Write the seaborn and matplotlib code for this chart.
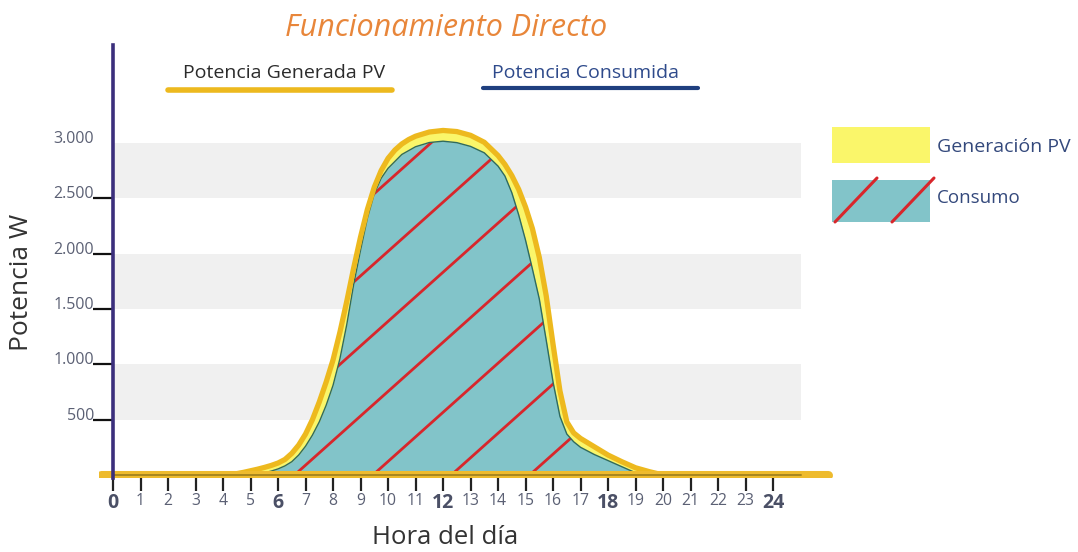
import numpy as np
import matplotlib
matplotlib.use("Agg")
import matplotlib.pyplot as plt
from matplotlib.patches import Rectangle
from matplotlib.lines import Line2D
import seaborn as sns

# Hourly power curves (W)
hours_pv = [0, 1, 2, 3, 4, 4.25, 4.5, 4.75, 5, 5.25, 5.5, 5.75, 6, 6.25, 6.5,
            6.75, 7, 7.25, 7.5, 7.75, 8, 8.25, 8.5, 8.75, 9, 9.25, 9.5, 9.75,
            10, 10.25, 10.5, 10.75, 11, 11.5, 12, 12.5, 13, 13.5, 14, 14.25,
            14.5, 14.75, 15, 15.25, 15.5, 15.75, 16, 16.25, 16.5, 16.75, 17,
            17.5, 18, 18.5, 19, 19.5, 20, 21, 22, 23, 24]
pv_w = [0, 0, 0, 0, 0, 4, 12, 24, 38, 52, 68, 86, 108, 140, 195, 270, 370,
        500, 660, 840, 1040, 1290, 1570, 1870, 2150, 2400, 2600, 2750, 2860,
        2935, 2990, 3030, 3060, 3098, 3112, 3102, 3068, 3005, 2885, 2805,
        2705, 2580, 2420, 2225, 1965, 1620, 1180, 760, 480, 380, 330, 255, 180,
        120, 65, 30, 0, 0, 0, 0, 0]

hours_cons = [0, 1, 2, 3, 4, 5, 5.25, 5.5, 5.75, 6, 6.25, 6.5, 6.75, 7, 7.25,
              7.5, 7.75, 8, 8.25, 8.5, 8.75, 9, 9.25, 9.5, 9.75, 10, 10.5, 11,
              11.5, 12, 12.5, 13, 13.5, 14, 14.25, 14.5, 14.75, 15, 15.25, 15.5,
              15.75, 16, 16.25, 16.5, 16.75, 17, 17.5, 18, 18.5, 19, 19.5, 20,
              24]
cons_w = [0, 0, 0, 0, 0, 0, 8, 20, 35, 55, 82, 120, 180, 260, 360, 480, 630,
          810, 1050, 1360, 1720, 2030, 2320, 2540, 2680, 2770, 2895, 2965,
          3003, 3015, 3002, 2968, 2910, 2790, 2700, 2550, 2350, 2120, 1860,
          1590, 1220, 840, 530, 370, 300, 250, 185, 130, 75, 20, 0, 0, 0]

x_ticks = list(range(0, 25))
major_hours = [0, 6, 12, 18, 24]
y_ticks = [500, 1000, 1500, 2000, 2500, 3000]
y_labels = ["500", "1.000", "1.500", "2.000", "2.500", "3.000"]
band_ranges = [(500, 1000), (1500, 2000), (2500, 3000)]

title = "Funcionamiento Directo"
x_title = "Hora del día"
y_title = "Potencia W"
top_labels = ["Potencia Generada PV", "Potencia Consumida"]
side_labels = ["Generación PV", "Consumo"]

# Colours
GOLD = "#EDB91E"
YELLOW = "#FAF66A"
TEAL = "#82C4C9"
TEAL_EDGE = "#2F6A5E"
RED = "#D8262B"
NAVY_AXIS = "#3B2F7C"
NAVY_TEXT = "#34497C"
TICK_GREY = "#5B6074"
BAND = "#F0F0F0"

sns.set_theme(style="white")
plt.rcParams["font.family"] = ["Open Sans", "DejaVu Sans"]

fig = plt.figure(figsize=(10.78, 5.52), dpi=100)
ax = fig.add_axes([0.0921, 0.1341, 0.6837, 0.7844])
ax.set_xlim(-0.5, 26.3)
ax.set_ylim(-27, 3884)

# Alternating horizontal bands
for lo, hi in band_ranges:
    ax.fill_between([0, 25], lo, hi, color=BAND, lw=0, zorder=0)

# PV generation area and consumption area
ax.fill_between(hours_pv, 0, pv_w, color=YELLOW, lw=0, zorder=1)
cons_poly = ax.fill_between(hours_cons, 0, cons_w, color=TEAL, lw=0, zorder=2)

# Wide diagonal stripes inside the consumption area
clip_path = cons_poly.get_paths()[0]
slope = 222.0  # W per hour
for k in range(-4, 4):
    h0 = 6.6 + 2.85 * k
    ln, = ax.plot([h0, h0 + 3600 / slope], [0, 3600], color=RED, lw=2,
                  zorder=3, solid_capstyle="butt")
    ln.set_clip_path(clip_path, ax.transData)

sns.lineplot(x=hours_cons, y=cons_w, ax=ax, color=TEAL_EDGE, lw=1.0,
             zorder=4, sort=False, estimator=None)
sns.lineplot(x=hours_pv, y=pv_w, ax=ax, color=GOLD, lw=3.8, zorder=5,
             sort=False, estimator=None)

# Baseline bar
ax.plot([-0.45, 26.0], [0, 0], color="#EEBB2E", lw=6.5, zorder=6,
        solid_capstyle="round")
ax.plot([0, 25], [0, 0], color="#A8861E", lw=1.4, zorder=7)

# Axes styling
for side in ["top", "right", "bottom"]:
    ax.spines[side].set_visible(False)
ax.spines["left"].set_position(("data", 0))
ax.spines["left"].set_color(NAVY_AXIS)
ax.spines["left"].set_linewidth(2.6)
ax.spines["left"].set_zorder(8)

ax.set_xticks(x_ticks)
ax.set_xticklabels([str(h) for h in x_ticks])
ax.tick_params(axis="x", direction="out", length=9, width=1.6, color="#222222",
               pad=2, bottom=True)
for lab, h in zip(ax.get_xticklabels(), x_ticks):
    if h in major_hours:
        lab.set_fontsize(14)
        lab.set_fontweight("bold")
        lab.set_color("#4B5066")
    else:
        lab.set_fontsize(11.3)
        lab.set_color(TICK_GREY)

ax.set_yticks(y_ticks)
ax.set_yticklabels(y_labels)
ax.tick_params(axis="y", direction="out", length=14.5, width=1.6,
               color="#111111", pad=-1, left=True, labelsize=11.5,
               labelcolor=TICK_GREY)
for lab in ax.get_yticklabels():
    lab.set_verticalalignment("baseline")
ax.yaxis.get_major_ticks()[-1].tick1line.set_visible(False)
ax.grid(False)

# Titles
fig.text(0.4137, 0.949, title, ha="center", va="center", fontsize=22,
         style="italic", color="#E8863A")
fig.text(0.4128, 0.027, x_title, ha="center", va="center", fontsize=18.5,
         color="#333333")
fig.text(0.0204, 0.489, y_title, ha="center", va="center", fontsize=19,
         rotation=90, color="#333333")

# Top line keys
fig.text(0.2635, 0.8678, top_labels[0], ha="center", va="center",
         fontsize=14, color="#2B2B2B")
fig.add_artist(Line2D([168 / 1078, 392 / 1078], [0.837, 0.837], color=GOLD,
                      lw=4, solid_capstyle="round"))
fig.text(0.5427, 0.8678, top_labels[1], ha="center", va="center",
         fontsize=14, color="#2E4A8B")
fig.add_artist(Line2D([483 / 1078, 698 / 1078], [0.8406, 0.8406],
                      color="#1F3F7F", lw=3, solid_capstyle="round"))

# Side area keys
W, H = 1078.0, 552.0
fig.add_artist(Rectangle((832 / W, 1 - 163 / H), 98 / W, 36 / H,
                         transform=fig.transFigure, color=YELLOW, lw=0))
fig.text(937 / W, 1 - 147 / H, side_labels[0], ha="left", va="center",
         fontsize=14, color=NAVY_TEXT)
box = Rectangle((832 / W, 1 - 222 / H), 98 / W, 42 / H,
                transform=fig.transFigure, color=TEAL, lw=0)
fig.add_artist(box)
for x0 in (835, 892):
    seg = Line2D([x0 / W, (x0 + 42) / W], [1 - 222 / H, 1 - 178 / H],
                 color=RED, lw=2.2)
    fig.add_artist(seg)
fig.text(937 / W, 1 - 198 / H, side_labels[1], ha="left", va="center",
         fontsize=13.5, color=NAVY_TEXT)

fig.savefig("out.png", dpi=100)
